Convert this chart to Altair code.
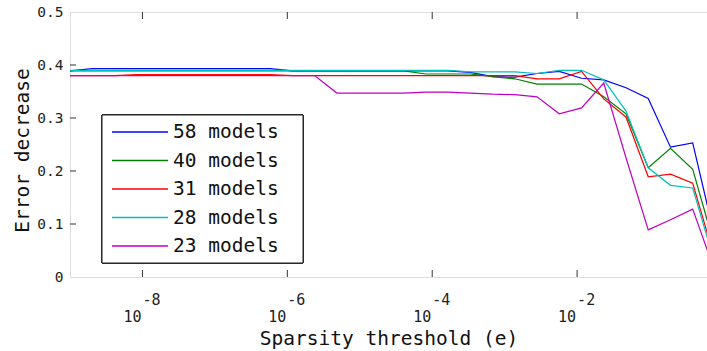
import altair as alt
import pandas as pd

# Sparsity thresholds (x)
thresholds = [1.000e-9, 2.028e-9, 4.111e-9, 8.337e-9, 1.690e-8, 3.428e-8, 6.950e-8,
              1.409e-7, 2.858e-7, 5.794e-7, 1.175e-6, 2.382e-6, 4.831e-6, 9.795e-6,
              1.986e-5, 4.027e-5, 8.166e-5, 1.656e-4, 3.357e-4, 6.808e-4, 1.380e-3,
              2.799e-3, 5.675e-3, 1.151e-2, 2.333e-2, 4.732e-2, 9.594e-2, 0.1945,
              0.3945, 0.7998]

series_names = ["58 models", "40 models", "31 models", "28 models", "23 models"]
series_colors = ["#0000ff", "#008000", "#ff0000", "#00bfbf", "#bf00bf"]

m58 = [0.389, 0.393, 0.393, 0.393, 0.393, 0.393, 0.393, 0.393, 0.393, 0.393,
       0.389, 0.389, 0.389, 0.389, 0.389, 0.389, 0.389, 0.389, 0.386, 0.378,
       0.377, 0.384, 0.388, 0.375, 0.372, 0.357, 0.337, 0.245, 0.253, 0.074]
m40 = [0.389, 0.389, 0.389, 0.389, 0.389, 0.389, 0.389, 0.389, 0.389, 0.389,
       0.389, 0.389, 0.389, 0.389, 0.389, 0.389, 0.383, 0.383, 0.383, 0.378,
       0.374, 0.364, 0.364, 0.364, 0.340, 0.308, 0.206, 0.243, 0.203, 0.056]
m31 = [0.380, 0.380, 0.380, 0.382, 0.382, 0.382, 0.382, 0.382, 0.382, 0.382,
       0.380, 0.380, 0.380, 0.380, 0.380, 0.380, 0.380, 0.380, 0.380, 0.380,
       0.380, 0.374, 0.374, 0.388, 0.336, 0.302, 0.189, 0.194, 0.177, 0.033]
m28 = [0.390, 0.390, 0.390, 0.390, 0.390, 0.390, 0.390, 0.390, 0.390, 0.390,
       0.390, 0.390, 0.390, 0.390, 0.390, 0.390, 0.390, 0.390, 0.387, 0.387,
       0.387, 0.384, 0.390, 0.390, 0.372, 0.313, 0.206, 0.173, 0.168, 0.025]
m23 = [0.380, 0.380, 0.380, 0.380, 0.380, 0.380, 0.380, 0.380, 0.380, 0.380,
       0.380, 0.380, 0.347, 0.347, 0.347, 0.347, 0.349, 0.349, 0.347, 0.345,
       0.344, 0.340, 0.308, 0.319, 0.366, 0.225, 0.089, 0.108, 0.128, 0.010]

x_tick_values = [1e-8, 1e-6, 1e-4, 1e-2]
x_tick_exps = ["-8", "-6", "-4", "-2"]
y_tick_values = [0, 0.1, 0.2, 0.3, 0.4, 0.5]
y_inner_ticks = [0.1, 0.2, 0.3, 0.4]

all_series = [m58, m40, m31, m28, m23]
rows = []
for name, vals in zip(series_names, all_series):
    for xv, yv in zip(thresholds, vals):
        rows.append({"series": name, "x": xv, "y": yv})
df = pd.DataFrame(rows)

legend_df = pd.DataFrame({"series": series_names, "idx": list(range(len(series_names)))})
xt_df = pd.DataFrame({"x": x_tick_values, "exp": x_tick_exps})
yt_df = pd.DataFrame({"y": y_inner_ticks})

MONO = "DejaVu Sans Mono"
W, H = 637, 265

color_scale = alt.Scale(domain=series_names, range=series_colors)
x_scale = alt.Scale(type="log", domain=[1e-9, 0.6211], nice=False)
y_scale = alt.Scale(domain=[0, 0.5], nice=False, zero=False)

x_axis = alt.Axis(title="Sparsity threshold (e)", labels=False, ticks=False,
                  domain=False, grid=False, titleFont=MONO, titleFontSize=19.5,
                  titleFontWeight="normal", titleColor="#111",
                  titleBaseline="middle", titleY=61)
y_axis = alt.Axis(values=y_tick_values, tickSize=0, domain=False, grid=False,
                  labelExpr="datum.value == 0 ? '0' : format(datum.value, '.1f')",
                  labelFont=MONO, labelFontSize=14.5, labelColor="#222",
                  labelPadding=7,
                  title="Error decrease", titleFont=MONO, titleFontSize=19.5,
                  titleFontWeight="normal", titleColor="#111",
                  titleBaseline="middle", titleX=-48, titleY=138)

X = alt.X("x:Q", scale=x_scale, axis=x_axis)
Y = alt.Y("y:Q", scale=y_scale, axis=y_axis)

lines = alt.Chart(df).mark_line(strokeWidth=1.2, clip=True).encode(
    x=X, y=Y,
    color=alt.Color("series:N", scale=color_scale, legend=None),
    detail="series:N",
)

bottom_ticks = alt.Chart(xt_df).mark_rule(color="#333", strokeWidth=1).encode(
    x=X, y=alt.value(H), y2=alt.value(H - 7),
)
top_ticks = alt.Chart(xt_df).mark_rule(color="#333", strokeWidth=1).encode(
    x=X, y=alt.value(0), y2=alt.value(7),
)
left_ticks = alt.Chart(yt_df).mark_rule(color="#333", strokeWidth=1).encode(
    y=Y, x=alt.value(0), x2=alt.value(6),
)
tick_base = alt.Chart(xt_df).mark_text(text="10", font=MONO, fontSize=15, align="right",
                                       baseline="alphabetic", dx=-1, color="#222").encode(
    x=X, y=alt.value(310),
)
tick_exp = alt.Chart(xt_df).mark_text(font=MONO, fontSize=15, align="left",
                                      baseline="alphabetic", dx=0, color="#222").encode(
    x=X, y=alt.value(293), text="exp:N",
)

legend_box = alt.Chart(legend_df).mark_rect(fill="white", stroke="#222", strokeWidth=1).encode(
    x=alt.value(32), x2=alt.value(233), y=alt.value(103), y2=alt.value(251),
)

legend_layers = []
for i, name in enumerate(series_names):
    ly = 120 + 28.5 * i
    row = alt.Chart(legend_df).transform_filter(alt.datum.idx == i)
    legend_layers.append(
        row.mark_rule(strokeWidth=1.3).encode(
            x=alt.value(42), x2=alt.value(98), y=alt.value(ly),
            color=alt.Color("series:N", scale=color_scale, legend=None),
        )
    )
    legend_layers.append(
        row.mark_text(font=MONO, fontSize=19.5, align="left", baseline="middle",
                      color="#111").encode(
            x=alt.value(103), y=alt.value(ly), text="series:N",
        )
    )

chart = alt.layer(
    lines, bottom_ticks, top_ticks, left_ticks, tick_base, tick_exp,
    legend_box, *legend_layers
).properties(
    width=W, height=H,
    autosize=alt.AutoSizeParams(type="none"),
    padding={"left": 70, "top": 12, "right": 0, "bottom": 74},
).configure_view(stroke="#333", strokeWidth=1).configure(background="white")

chart.save("out.html", embed_options={"renderer": "svg", "actions": False})
